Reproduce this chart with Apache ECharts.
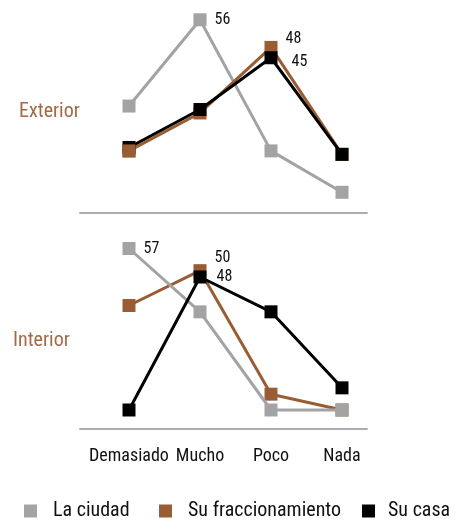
<!DOCTYPE html>
<html><head><meta charset="utf-8">
<script src="https://cdn.jsdelivr.net/npm/echarts@6/dist/echarts.min.js"></script>
<style>html,body{margin:0;padding:0;background:#fff}#c{width:456px;height:522px}</style>
</head><body><div id="c"></div>
<script>
const categories = ['Demasiado', 'Mucho', 'Poco', 'Nada'];
const seriesNames = ['La ciudad', 'Su fraccionamiento', 'Su casa'];
const panelNames = ['Exterior', 'Interior'];
// Exterior
const extCiudad = [31, 56, 18, 6];
const extFracc = [18, 29, 48, 17];
const extCasa = [19, 30, 45, 17];
// Interior
const intCiudad = [57, 37, 6, 6];
const intFracc = [39, 50, 11, 6];
const intCasa = [6, 48, 37, 13];

const FONT = "'Liberation Sans Narrow', 'Roboto Condensed', 'DejaVu Sans Condensed', sans-serif";
const colors = ['#a3a3a3', '#9a5c32', '#000000'];

function withLabel(vals, idx, labelOpt) {
  return vals.map((v, i) => i === idx ? {value: v, label: Object.assign({show: true, position: 'right', formatter: '{c}', color: '#111', fontSize: 16, fontFamily: FONT}, labelOpt)} : v);
}
function mkSeries(name, data, gi, color, z) {
  return {
    type: 'line', name: name, xAxisIndex: gi, yAxisIndex: gi, data: data,
    symbol: 'rect', symbolSize: 13, showAllSymbol: true,
    itemStyle: {color: color, opacity: 1}, lineStyle: {color: color, width: 3},
    z: z, animation: false, label: {show: false}
  };
}
const chart = echarts.init(document.getElementById('c'), null, {renderer: 'canvas'});
const option = {
  animation: false,
  color: colors,
  title: [
    {text: panelNames[0], left: 19, top: 102, padding: 0, textStyle: {color: '#a26a45', fontSize: 20, fontWeight: 'normal', fontFamily: FONT}},
    {text: panelNames[1], left: 13, top: 331, padding: 0, textStyle: {color: '#a26a45', fontSize: 20, fontWeight: 'normal', fontFamily: FONT}}
  ],
  legend: [0, 1, 2].map((i) => ({
    data: [seriesNames[i]], left: [24, 159, 362][i], top: 501, padding: 0, icon: 'rect',
    itemWidth: 13, itemHeight: 13, selectedMode: false,
    textStyle: {fontSize: 20, color: '#111', fontFamily: FONT, padding: [0, 0, 0, i === 2 ? 8 : 11]}
  })),
  grid: [
    {left: 129, width: 213, top: 6, height: 207},
    {left: 129, width: 213, top: 239, height: 190},
    {left: 80, width: 287, top: 6, height: 207},
    {left: 80, width: 287, top: 239, height: 190}
  ],
  xAxis: [
    {gridIndex: 0, type: 'category', data: categories, boundaryGap: false, axisLine: {show: false}, axisTick: {show: false}, axisLabel: {show: false}, splitLine: {show: false}},
    {gridIndex: 1, type: 'category', data: categories, boundaryGap: false, axisLine: {show: false}, axisTick: {show: false},
      axisLabel: {show: true, interval: 0, fontSize: 18, color: '#111', fontFamily: FONT, margin: 18}, splitLine: {show: false}},
    {gridIndex: 2, type: 'value', min: 0, max: 1, axisLine: {show: true, lineStyle: {color: '#adadad', width: 2}}, axisTick: {show: false}, axisLabel: {show: false}, splitLine: {show: false}},
    {gridIndex: 3, type: 'value', min: 0, max: 1, axisLine: {show: true, lineStyle: {color: '#adadad', width: 2}}, axisTick: {show: false}, axisLabel: {show: false}, splitLine: {show: false}}
  ],
  yAxis: [
    {gridIndex: 0, type: 'value', min: 0, max: 60, show: false},
    {gridIndex: 1, type: 'value', min: 0, max: 60, show: false},
    {gridIndex: 2, type: 'value', min: 0, max: 1, show: false},
    {gridIndex: 3, type: 'value', min: 0, max: 1, show: false}
  ],
  series: [
    mkSeries(seriesNames[0], withLabel(extCiudad, 1, {distance: 8}), 0, colors[0], 2),
    mkSeries(seriesNames[1], withLabel(extFracc, 2, {distance: 8, offset: [0, -8]}), 0, colors[1], 3),
    mkSeries(seriesNames[2], withLabel(extCasa, 2, {distance: 14, offset: [0, 4]}), 0, colors[2], 4),
    // first brown marker sits above the black one in the reference
    {type: 'scatter', name: seriesNames[1] + ' ', xAxisIndex: 0, yAxisIndex: 0, data: [[categories[0], extFracc[0]]], symbol: 'rect', symbolSize: 13, itemStyle: {color: colors[1], opacity: 1}, z: 5, animation: false},
    mkSeries(seriesNames[1], withLabel(intFracc, 1, {distance: 8, offset: [0, -13]}), 1, colors[1], 2),
    mkSeries(seriesNames[0], withLabel(intCiudad, 0, {distance: 8}), 1, colors[0], 3),
    mkSeries(seriesNames[2], withLabel(intCasa, 1, {distance: 10}), 1, colors[2], 4)
  ]
};
chart.setOption(option);
</script></body></html>
